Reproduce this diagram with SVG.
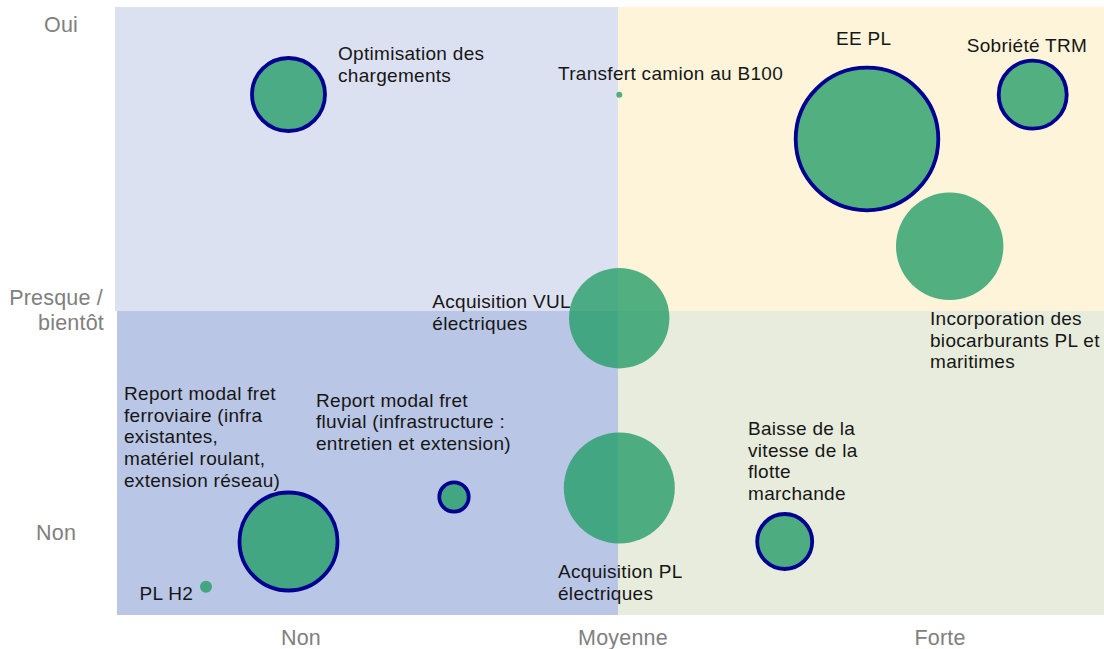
<svg xmlns="http://www.w3.org/2000/svg" width="1104" height="649" viewBox="0 0 1104 649">
<style>
.bg{stroke:none}
.b{fill:#269e69;fill-opacity:0.8}
.s{stroke:#000091;stroke-width:3.8}
.t{font-family:"Liberation Sans",Arial,sans-serif;font-size:19px;letter-spacing:0.3px;fill:#161616}
.ax{font-family:"Liberation Sans",Arial,sans-serif;font-size:21.5px;letter-spacing:0.2px;fill:#808080}
</style>
<rect width="1104" height="649" fill="#ffffff"/>
<g id="quadrants">
<rect class="bg" x="115" y="7" width="503" height="304" fill="#dce1f2"/>
<rect class="bg" x="618" y="7" width="486" height="304" fill="#fef4da"/>
<rect class="bg" x="117" y="311" width="501" height="304" fill="#bac6e5"/>
<rect class="bg" x="618" y="311" width="486" height="304" fill="#e8ecdc"/>
</g>
<g id="axes">
<text class="ax" x="44" y="32">Oui</text>
<text class="ax" text-anchor="end"><tspan x="103" y="305">Presque /</tspan><tspan x="104" y="330">bientôt</tspan></text>
<text class="ax" x="36" y="540">Non</text>
<text class="ax" x="301" y="645" text-anchor="middle">Non</text>
<text class="ax" x="623" y="645" text-anchor="middle">Moyenne</text>
<text class="ax" x="940" y="645" text-anchor="middle">Forte</text>
</g>
<g id="connectors"></g>
<g id="optimisation">
<circle class="b s" cx="288.5" cy="94.5" r="36.5"/>
<text class="t"><tspan x="338" y="60">Optimisation des</tspan><tspan x="338" y="81.7">chargements</tspan></text>
</g>
<g id="b100">
<circle class="b" cx="619.3" cy="94.7" r="3"/>
<text class="t" x="558" y="80">Transfert camion au B100</text>
</g>
<g id="ee-pl">
<circle class="b s" cx="867" cy="139" r="71.3"/>
<text class="t" x="836" y="45">EE PL</text>
</g>
<g id="sobriete-trm">
<circle class="b s" cx="1032.7" cy="94.7" r="34"/>
<text class="t" x="966.7" y="52.3">Sobriété TRM</text>
</g>
<g id="biocarburants">
<circle class="b" cx="949.7" cy="246.3" r="53.7"/>
<text class="t"><tspan x="930" y="325">Incorporation des</tspan><tspan x="930" y="346.7">biocarburants PL et</tspan><tspan x="930" y="368.4">maritimes</tspan></text>
</g>
<g id="vul">
<circle class="b" cx="619.2" cy="318.2" r="50.2"/>
<text class="t"><tspan x="432.3" y="308.3">Acquisition VUL</tspan><tspan x="432.3" y="330">électriques</tspan></text>
</g>
<g id="pl-electriques">
<circle class="b" cx="619.3" cy="488" r="55.5"/>
<text class="t"><tspan x="558" y="578">Acquisition PL</tspan><tspan x="558" y="599.7">électriques</tspan></text>
</g>
<g id="ferroviaire">
<circle class="b s" cx="288.5" cy="541.5" r="49"/>
<text class="t"><tspan x="124" y="400">Report modal fret</tspan><tspan x="124" y="421.7">ferroviaire (infra</tspan><tspan x="124" y="443.4">existantes,</tspan><tspan x="124" y="465.1">matériel roulant,</tspan><tspan x="124" y="486.8">extension réseau)</tspan></text>
</g>
<g id="fluvial">
<circle class="b s" cx="454" cy="497" r="14.7"/>
<text class="t"><tspan x="316" y="406.7">Report modal fret</tspan><tspan x="316" y="428.4">fluvial (infrastructure :</tspan><tspan x="316" y="450.1">entretien et extension)</tspan></text>
</g>
<g id="pl-h2">
<circle class="b" cx="206" cy="586.7" r="6"/>
<text class="t" x="139.5" y="600">PL H2</text>
</g>
<g id="vitesse-flotte">
<circle class="b s" cx="784.7" cy="541.5" r="27.5"/>
<text class="t"><tspan x="748" y="435">Baisse de la</tspan><tspan x="748" y="456.7">vitesse de la</tspan><tspan x="748" y="478.4">flotte</tspan><tspan x="748" y="500.1">marchande</tspan></text>
</g>
</svg>
